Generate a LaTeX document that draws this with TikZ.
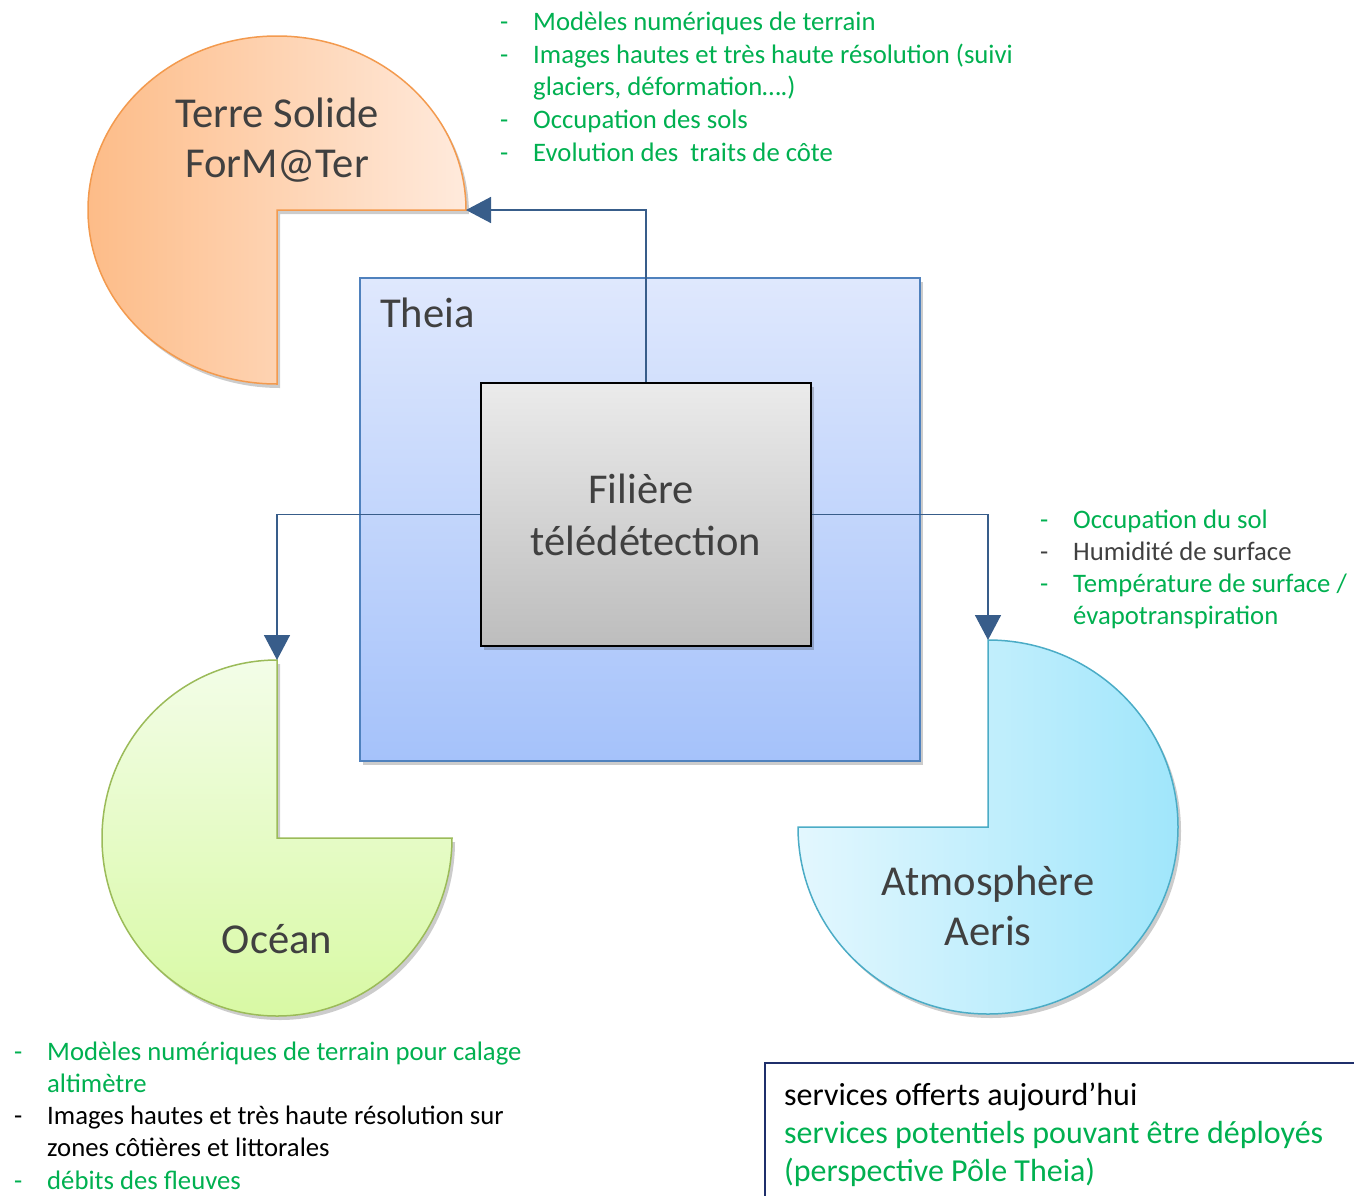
\documentclass[tikz,border=0pt]{standalone}
\usepackage{fontspec}
\setmainfont{Carlito}
\usetikzlibrary{arrows.meta,shadows}
\definecolor{txtgreen}{HTML}{00B050}
\definecolor{txtgray}{HTML}{404040}
\definecolor{arrowblue}{HTML}{385D8A}
\definecolor{theiaborder}{HTML}{4F81BD}
\definecolor{theiatop}{HTML}{DFE8FD}
\definecolor{theiabot}{HTML}{A5C2FA}
\definecolor{filtop}{HTML}{EBEBEB}
\definecolor{filbot}{HTML}{BDBDBD}
\definecolor{terreL}{HTML}{FDBC88}
\definecolor{terreR}{HTML}{FFEADC}
\definecolor{terreB}{HTML}{F39A4E}
\definecolor{oceanT}{HTML}{F3FDE8}
\definecolor{oceanB}{HTML}{D8F9A4}
\definecolor{oceanD}{HTML}{9BBB59}
\definecolor{atmoL}{HTML}{E3F7FE}
\definecolor{atmoR}{HTML}{A0E6FB}
\definecolor{atmoD}{HTML}{4BACC6}
\definecolor{legendnavy}{HTML}{1F2F6B}
\newcommand{\litem}[5]{%
  \node[listtext, text=#4] (#1) at (#2,#3) {#5};}
\begin{document}
\begin{tikzpicture}[x=1pt,y=-1pt,
  softshadow/.style={drop shadow={opacity=0.2, shadow xshift=3pt, shadow yshift=-4pt, fill=black}},
  theiabox/.style={draw=theiaborder, line width=1.5pt, top color=theiatop, bottom color=theiabot,
    minimum width=560pt, minimum height=483pt, inner sep=0pt, softshadow},
  filbox/.style={draw=black, line width=1.8pt, top color=filtop, bottom color=filbot,
    minimum width=330pt, minimum height=263pt, inner sep=0pt, softshadow},
  bigtext/.style={font=\fontsize{42.6}{50}\selectfont, text=txtgray, inner sep=0pt, anchor=base},
  midtext/.style={font=\fontsize{42.5}{50}\selectfont, text=txtgray, inner sep=0pt, anchor=base},
  listtext/.style={font=\fontsize{26.7}{32}\selectfont, inner sep=0pt, anchor=base west},
  legtext/.style={font=\fontsize{32}{38}\selectfont, inner sep=0pt, anchor=base west},
  conn/.style={draw=arrowblue, line width=1.5pt, -{Triangle[width=26pt,length=25pt]}},
  legendbox/.style={draw=legendnavy, line width=2pt}
]
\useasboundingbox (0,0) rectangle (1354,1195);
\clip (0,0) rectangle (1354,1195);

% Theia container
\node[theiabox] (theia) at (640,519.5) {};
\node[bigtext, anchor=base west] (theiaT) at (380,327) {Theia};

% pies
\path[draw=terreB, line width=1.5pt, left color=terreL, right color=terreR, softshadow]
  (466,210) arc[start angle=0, end angle=-270, x radius=189, y radius=174] -- (277,210) -- cycle;
\coordinate (terreTip) at (466,210);
\node[bigtext] (terreT1) at (277,127) {Terre Solide};
\node[bigtext] (terreT2) at (277,177) {ForM@Ter};

\path[draw=oceanD, line width=1.5pt, top color=oceanT, bottom color=oceanB, softshadow]
  (277,660) arc[start angle=-90, end angle=-360, x radius=175, y radius=178] -- (277,838) -- cycle;
\coordinate (oceanTip) at (277,660);
\node[bigtext] (oceanT) at (277,953) {Océan};

\path[draw=atmoD, line width=1.5pt, left color=atmoL, right color=atmoR, softshadow]
  (798,827) arc[start angle=-180, end angle=-450, x radius=190, y radius=187] -- (988,827) -- cycle;
\coordinate (atmoTip) at (988,640);
\node[bigtext] (atmoT1) at (988,895) {Atmosphère};
\node[bigtext] (atmoT2) at (988,945) {Aeris};

% central box
\node[filbox] (fil) at (646,514.5) {};
\node[midtext] (filT1) at (641,503) {Filière};
\node[midtext] (filT2) at (646,555) {télédétection};

% connectors
\draw[conn] (fil.north) |- (terreTip);
\draw[conn] (fil.west) -| (oceanTip);
\draw[conn] (fil.east) -| (atmoTip);

% top list
\litem{ta}{500}{30}{txtgreen}{-}
\litem{tb}{533}{30}{txtgreen}{Modèles numériques de terrain}
\litem{tc}{500}{63}{txtgreen}{-}
\litem{td}{533}{63}{txtgreen}{Images hautes et très haute résolution (suivi}
\litem{te}{533}{95}{txtgreen}{glaciers, déformation….)}
\litem{tf}{500}{128}{txtgreen}{-}
\litem{tg}{533}{128}{txtgreen}{Occupation des sols}
\litem{th}{500}{161}{txtgreen}{-}
\litem{ti}{533}{161}{txtgreen}{Evolution des\ \ traits de côte}

% right list
\litem{ra}{1040}{528}{txtgreen}{-}
\litem{rb}{1073}{528}{txtgreen}{Occupation du sol}
\litem{rc}{1040}{560}{txtgray}{-}
\litem{rd}{1073}{560}{txtgray}{Humidité de surface}
\litem{re}{1040}{592}{txtgreen}{-}
\litem{rf}{1073}{592}{txtgreen}{Température de surface /}
\litem{rg}{1073}{624}{txtgreen}{évapotranspiration}

% bottom-left list
\litem{ba}{14}{1060}{txtgreen}{-}
\litem{bb}{47}{1060}{txtgreen}{Modèles numériques de terrain pour calage}
\litem{bc}{47}{1092}{txtgreen}{altimètre}
\litem{bd}{14}{1124}{black}{-}
\litem{be}{47}{1124}{black}{Images hautes et très haute résolution sur}
\litem{bf}{47}{1156}{black}{zones côtières et littorales}
\litem{bg}{14}{1189}{txtgreen}{-}
\litem{bh}{47}{1189}{txtgreen}{débits des fleuves}

% legend
\draw[legendbox] (765,1063) rectangle (1370,1210);
\node[legtext, text=black] (lg1) at (784,1105) {services offerts aujourd’hui};
\node[legtext, text=txtgreen] (lg2) at (784,1143) {services potentiels pouvant être déployés};
\node[legtext, text=txtgreen] (lg3) at (784,1181) {(perspective Pôle Theia)};
\end{tikzpicture}
\end{document}
